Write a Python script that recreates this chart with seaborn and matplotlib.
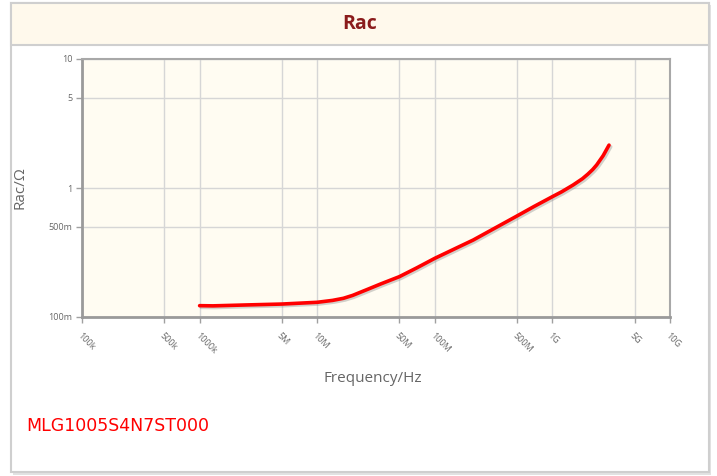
import matplotlib
matplotlib.use("Agg")
import matplotlib.pyplot as plt
import matplotlib.patheffects as pe
from matplotlib.patches import Rectangle
import numpy as np
import pandas as pd
import seaborn as sns

# values
freq_hz = [1.0e6, 1.3e6, 2.5e6, 5e6, 1.0e7, 1.35e7, 1.67e7, 2.0e7, 2.6e7,
           3.5e7, 5e7, 7e7, 1.0e8, 1.5e8, 2.12e8, 3.0e8, 5e8, 7e8, 1.0e9,
           1.2e9, 1.5e9, 1.8e9, 2.0e9, 2.2e9, 2.38e9, 2.7e9, 3.03e9]
rac_ohm = [0.1224, 0.1220, 0.1240, 0.1260, 0.1300, 0.1345, 0.1396, 0.147,
           0.162, 0.181, 0.2055, 0.240, 0.285, 0.340, 0.395, 0.470, 0.607,
           0.720, 0.857, 0.935, 1.055, 1.18, 1.28, 1.39, 1.51, 1.78, 2.15]

x_ticks = [1e5, 5e5, 1e6, 5e6, 1e7, 5e7, 1e8, 5e8, 1e9, 5e9, 1e10]
x_labels = ["100k", "500k", "1000k", "5M", "10M", "50M", "100M",
            "500M", "1G", "5G", "10G"]
y_ticks = [0.1, 0.5, 1, 5, 10]
y_labels = ["100m", "500m", "1", "5", "10"]

part_name = "MLG1005S4N7ST000"

sns.set_theme(style="white")
plt.rcParams["font.family"] = ["Open Sans", "DejaVu Sans"]

W, H = 717, 476
fig = plt.figure(figsize=(W / 100, H / 100), dpi=100)


def px(x0, y0, x1, y1):
    # pixel box -> figure fraction (left, bottom, width, height)
    return (x0 / W, 1 - y1 / H, (x1 - x0) / W, (y1 - y0) / H)


# outer panel and title band
l, b, w, h = px(13, 5, 711, 475)
fig.add_artist(Rectangle((l, b), w, h, transform=fig.transFigure,
                         facecolor="#e2e2e2", edgecolor="none", zorder=0))
l, b, w, h = px(11, 3, 709, 472)
fig.add_artist(Rectangle((l, b), w, h, transform=fig.transFigure,
                         facecolor="white", edgecolor="#cfcfcf", lw=1.5, zorder=0))
l, b, w, h = px(11, 3, 709, 45)
fig.add_artist(Rectangle((l, b), w, h, transform=fig.transFigure,
                         facecolor="#fff9ec", edgecolor="#cfcfcf", lw=1.5, zorder=0))

fig.text(360 / W, 1 - 24 / H, "Rac", ha="center", va="center",
         fontsize=14, fontweight="bold", color="#8b1c1c")

ax = fig.add_axes(px(82, 59, 670, 317))
ax.set_facecolor("#fffcf2")

df = pd.DataFrame({"freq": freq_hz, "rac": rac_ohm})
sns.lineplot(data=df, x="freq", y="rac", ax=ax, color="red", lw=2.6,
             path_effects=[pe.SimpleLineShadow(offset=(1.2, -1.2), shadow_color="gray", alpha=0.35),
                           pe.Normal()])

ax.set_xscale("log")
ax.set_yscale("log")
ax.set_xlim(1e5, 1e10)
ax.set_ylim(0.1, 10)
ax.set_xticks(x_ticks)
ax.set_xticklabels(x_labels, rotation=-45, ha="left", va="top",
                   rotation_mode="anchor", fontsize=6.5, color="#666666")
ax.set_yticks(y_ticks)
ax.set_yticklabels(y_labels, fontsize=6.5, color="#666666")
ax.minorticks_off()
ax.grid(True, color="#d6d6d6", lw=1)
ax.tick_params(axis="both", length=4, width=1, color="#a0a0a0", pad=3,
               direction="out", bottom=True, left=True)
ax.tick_params(axis="x", pad=6)
for side in ["top", "right"]:
    ax.spines[side].set_color("#a8a8a8")
    ax.spines[side].set_linewidth(1.5)
for side in ["left", "bottom"]:
    ax.spines[side].set_color("#9a9a9a")
    ax.spines[side].set_linewidth(2)

ax.set_xlabel("")
ax.set_ylabel("")
fig.text(373 / W, 1 - 378 / H, "Frequency/Hz", ha="center", va="center",
         fontsize=11, color="#666666")
fig.text(20 / W, 1 - 188 / H, "Rac/Ω", ha="center", va="center",
         rotation=90, fontsize=11, color="#666666")

fig.text(26 / W, 1 - 426 / H, part_name, ha="left", va="center",
         fontsize=12.5, color="red", family="DejaVu Sans")

fig.savefig("out.png", dpi=100)
